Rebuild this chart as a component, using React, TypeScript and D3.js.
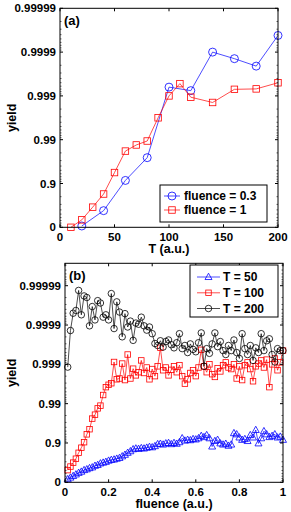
import React from 'react';
import * as d3 from 'd3';

// yield is plotted on a "nines" axis: n = -log10(1 - yield)
const yTickNines = [0, 1, 2, 3, 4, 5];
const yTickLabels = ['0', '0.9', '0.99', '0.999', '0.9999', '0.99999'];

// panel (a): yield vs T
const tTicks = [0, 50, 100, 150, 200];
const tFluence03 = [20, 40, 60, 80, 100, 120, 140, 160, 180, 200];
const ninesFluence03 = [0.03, 0.38, 1.07, 1.59, 3.2, 3.12, 4.0, 3.85, 3.68, 4.38];
const tFluence1 = [10, 20, 30, 40, 50, 60, 70, 80, 90, 100, 110, 120, 140, 160, 180, 200];
const ninesFluence1 = [0.0, 0.17, 0.46, 0.76, 1.25, 1.74, 1.88, 1.97, 2.5, 3.0, 3.28, 2.97, 2.85, 3.15, 3.16, 3.3];

// panel (b): yield vs fluence
const fTicks = [0, 0.2, 0.4, 0.6, 0.8, 1];
const fluence = [
  0.0125, 0.025, 0.0375, 0.05, 0.0625, 0.075, 0.0875, 0.1, 0.1125, 0.125,
  0.1375, 0.15, 0.1625, 0.175, 0.1875, 0.2, 0.2125, 0.225, 0.2375, 0.25,
  0.2625, 0.275, 0.2875, 0.3, 0.3125, 0.325, 0.3375, 0.35, 0.3625, 0.375,
  0.3875, 0.4, 0.4125, 0.425, 0.4375, 0.45, 0.4625, 0.475, 0.4875, 0.5,
  0.5125, 0.525, 0.5375, 0.55, 0.5625, 0.575, 0.5875, 0.6, 0.6125, 0.625,
  0.6375, 0.65, 0.6625, 0.675, 0.6875, 0.7, 0.7125, 0.725, 0.7375, 0.75,
  0.7625, 0.775, 0.7875, 0.8, 0.8125, 0.825, 0.8375, 0.85, 0.8625, 0.875,
  0.8875, 0.9, 0.9125, 0.925, 0.9375, 0.95, 0.9625, 0.975, 0.9875, 1.0,
];
const ninesT50 = [
  0.08, 0.12, 0.16, 0.2, 0.24, 0.27, 0.31, 0.33, 0.36, 0.38,
  0.42, 0.44, 0.48, 0.5, 0.52, 0.55, 0.57, 0.58, 0.6, 0.62,
  0.66, 0.7, 0.75, 0.79, 0.84, 0.86, 0.85, 0.87, 0.86, 0.88,
  0.9, 0.89, 0.92, 0.97, 0.98, 0.96, 0.99, 1.0, 0.97, 1.0,
  0.98, 1.02, 1.12, 1.06, 1.08, 1.07, 1.1, 1.09, 1.12, 1.18,
  1.15, 1.2, 1.12, 0.91, 1.05, 1.08, 0.99, 0.96, 0.98, 0.93,
  0.96, 1.25, 1.22, 1.14, 1.08, 1.1, 1.05, 1.2, 1.14, 1.33,
  0.99, 1.12, 1.3, 1.22, 1.15, 1.18, 1.22, 1.14, 1.16, 1.08,
];
const ninesT100 = [
  0.31, 0.4, 0.5, 0.6, 0.75, 0.88, 1.02, 1.22, 1.35, 1.62,
  1.72, 1.88, 1.95, 2.22, 2.42, 2.48, 2.52, 3.06, 2.62, 2.64,
  3.02, 2.6, 3.25, 2.64, 2.89, 2.72, 2.8, 3.1, 2.78, 2.92,
  2.62, 2.88, 2.7, 2.95, 3.42, 2.85, 2.92, 2.72, 2.86, 2.95,
  2.8, 2.98, 2.7, 2.51, 2.62, 2.78, 2.85, 2.7, 2.92, 3.37,
  2.95, 2.8, 3.0, 2.75, 2.68, 2.9, 2.82, 2.98, 3.05, 2.92,
  2.88, 3.0, 2.64, 2.95, 2.6, 2.98, 3.05, 2.88, 2.57, 2.95,
  3.02, 3.1, 2.92, 3.12, 2.42, 3.0, 3.15, 2.85, 3.05, 3.35,
];
const ninesT200 = [
  2.93, 3.86, 4.3, 4.37, 4.88, 4.26, 4.74, 4.7, 3.98, 4.47,
  4.13, 4.62, 4.56, 4.2, 4.26, 4.13, 4.8, 3.91, 4.59, 4.33,
  3.7, 4.29, 3.95, 4.1, 3.61, 4.05, 4.02, 4.2, 3.98, 3.87,
  3.95, 3.78, 3.53, 3.48, 3.6, 3.44, 3.58, 3.62, 3.5, 3.42,
  3.55, 3.78, 3.4, 3.48, 3.3, 3.52, 3.38, 3.32, 3.55, 3.8,
  2.95, 3.4, 3.28, 3.52, 3.8, 3.45, 3.58, 3.35, 3.25, 3.48,
  3.35, 3.62, 3.3, 3.15, 3.78, 3.4, 3.25, 3.48, 3.1, 3.42,
  3.3, 3.78, 3.35, 3.6, 3.65, 3.25, 3.06, 3.4, 3.35, 3.35,
];

const FONT = '"Liberation Sans", Arial, Helvetica, sans-serif';
const BLUE = '#0000ff';
const RED = '#ff0000';

type MarkerKind = 'circle' | 'square' | 'triangle';

const Marker = ({ kind, x, y, s, color }: { kind: MarkerKind; x: number; y: number; s: number; color: string }) => {
  const common = { fill: 'none', stroke: color, strokeWidth: 0.8 };
  if (kind === 'circle') return <circle cx={x} cy={y} r={s / 2} {...common} />;
  if (kind === 'square') return <rect x={x - s / 2} y={y - s / 2} width={s} height={s} {...common} />;
  const h = s * 0.9;
  return (
    <polygon
      points={`${x},${y - h * 0.6} ${x + s / 2},${y + h * 0.4} ${x - s / 2},${y + h * 0.4}`}
      {...common}
    />
  );
};

interface Series {
  xs: number[];
  ys: number[];
  color: string;
  kind: MarkerKind;
  size: number;
  label: string;
}

interface PanelProps {
  box: { left: number; right: number; top: number; bottom: number };
  xDomain: [number, number];
  yMax: number;
  xTicks: number[];
  xFormat: (v: number) => string;
  xLabel: string;
  tag: string;
  series: Series[];
  legend: { x: number; y: number; w: number; h: number; rows: number[]; lineX: [number, number]; textX: number };
}

const Panel = ({ box, xDomain, yMax, xTicks, xFormat, xLabel, tag, series, legend }: PanelProps) => {
  const x = d3.scaleLinear().domain(xDomain).range([box.left, box.right]);
  const y = d3.scaleLinear().domain([0, yMax]).range([box.bottom, box.top]);
  const tl = 3;

  // minor ticks at k * 10^-n of (1 - yield)
  const minor: number[] = [];
  for (let n = 1; n <= Math.ceil(yMax); n++) {
    for (let k = 2; k <= 9; k++) {
      const v = n - Math.log10(k);
      if (v < yMax) minor.push(v);
    }
  }

  return (
    <g fontFamily={FONT} fontWeight="bold">
      <rect x={box.left} y={box.top} width={box.right - box.left} height={box.bottom - box.top} fill="#fff" />

      {series.map((s, i) => {
        const line = d3.line<number>()
          .x((_, j) => x(s.xs[j]))
          .y((d) => y(d));
        return (
          <g key={i}>
            <path d={line(s.ys) || ''} fill="none" stroke={s.color} strokeWidth={0.7} />
            {s.ys.map((d, j) => (
              <Marker key={j} kind={s.kind} x={x(s.xs[j])} y={y(d)} s={s.size} color={s.color} />
            ))}
          </g>
        );
      })}

      {/* frame */}
      <rect x={box.left} y={box.top} width={box.right - box.left} height={box.bottom - box.top}
        fill="none" stroke="#000" strokeWidth={1} />

      {/* y ticks */}
      {yTickNines.map((v, i) => (
        <g key={'y' + i}>
          <line x1={box.left} x2={box.left + tl} y1={y(v)} y2={y(v)} stroke="#000" />
          <line x1={box.right} x2={box.right - tl} y1={y(v)} y2={y(v)} stroke="#000" />
          <text x={box.left - 4} y={y(v) + 4} textAnchor="end" fontSize={11.5}>{yTickLabels[i]}</text>
        </g>
      ))}
      {minor.map((v, i) => (
        <g key={'m' + i}>
          <line x1={box.left} x2={box.left + 1.5} y1={y(v)} y2={y(v)} stroke="#000" strokeWidth={0.6} />
          <line x1={box.right} x2={box.right - 1.5} y1={y(v)} y2={y(v)} stroke="#000" strokeWidth={0.6} />
        </g>
      ))}

      {/* x ticks */}
      {xTicks.map((v, i) => (
        <g key={'x' + i}>
          <line x1={x(v)} x2={x(v)} y1={box.bottom} y2={box.bottom - tl} stroke="#000" />
          <line x1={x(v)} x2={x(v)} y1={box.top} y2={box.top + tl} stroke="#000" />
          <text x={x(v)} y={box.bottom + 14} textAnchor="middle" fontSize={11.5}>{xFormat(v)}</text>
        </g>
      ))}

      <text x={(box.left + box.right) / 2} y={box.bottom + 26} textAnchor="middle" fontSize={12.5}>{xLabel}</text>
      <text transform={`translate(16,${(box.top + box.bottom) / 2}) rotate(-90)`} textAnchor="middle" fontSize={12.5}>yield</text>
      <text x={box.left + 4} y={box.top + 17} fontSize={13}>{tag}</text>

      {/* legend */}
      <rect x={legend.x} y={legend.y} width={legend.w} height={legend.h} fill="#fff" stroke="#000" strokeWidth={1} />
      {series.map((s, i) => {
        const cy = legend.rows[i];
        const mx = (legend.lineX[0] + legend.lineX[1]) / 2;
        return (
          <g key={'l' + i}>
            <line x1={legend.lineX[0]} x2={legend.lineX[1]} y1={cy} y2={cy} stroke={s.color} strokeWidth={0.7} />
            <Marker kind={s.kind} x={mx} y={cy} s={s.size} color={s.color} />
            <text x={legend.textX} y={cy + 4.3} fontSize={12}>{s.label}</text>
          </g>
        );
      })}
    </g>
  );
};

export default function App() {
  const fmtF = (v: number) => (v === 0 || v === 1 ? String(v) : String(v));
  return (
    <svg width={291} height={512} style={{ position: 'absolute', left: 0, top: 0, background: '#fff' }}>
      <Panel
        box={{ left: 60, right: 278, top: 8.3, bottom: 227.3 }}
        xDomain={[0, 200]}
        yMax={5}
        xTicks={tTicks}
        xFormat={(v) => String(v)}
        xLabel="T (a.u.)"
        tag="(a)"
        series={[
          { xs: tFluence03, ys: ninesFluence03, color: BLUE, kind: 'circle', size: 8, label: 'fluence = 0.3' },
          { xs: tFluence1, ys: ninesFluence1, color: RED, kind: 'square', size: 6.5, label: 'fluence = 1' },
        ]}
        legend={{ x: 160, y: 185, w: 107, h: 37, rows: [196, 210], lineX: [164, 180], textX: 184 }}
      />
      <Panel
        box={{ left: 65, right: 283, top: 263.3, bottom: 482.3 }}
        xDomain={[0, 1]}
        yMax={5.57}
        xTicks={fTicks}
        xFormat={fmtF}
        xLabel="fluence (a.u.)"
        tag="(b)"
        series={[
          { xs: fluence, ys: ninesT50, color: BLUE, kind: 'triangle', size: 7, label: 'T = 50' },
          { xs: fluence, ys: ninesT100, color: RED, kind: 'square', size: 5.5, label: 'T = 100' },
          { xs: fluence, ys: ninesT200, color: '#000', kind: 'circle', size: 6.5, label: 'T = 200' },
        ]}
        legend={{ x: 190, y: 265, w: 88, h: 52, rows: [277, 292.8, 308.5], lineX: [197, 220], textX: 223 }}
      />
    </svg>
  );
}
